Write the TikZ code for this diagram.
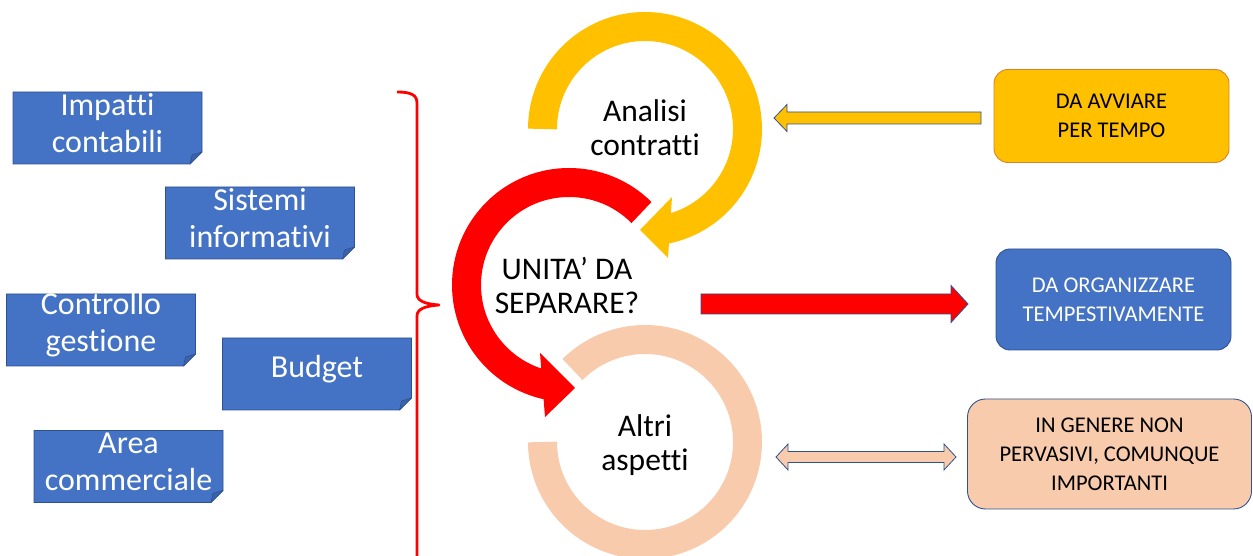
\documentclass[tikz,border=0pt]{standalone}
\usepackage{fontspec}
\setmainfont{Carlito}[Ligatures=NoCommon]
\usetikzlibrary{calc,backgrounds}

\definecolor{noteblue}{HTML}{4472C4}
\definecolor{noteedge}{HTML}{2F528F}
\definecolor{notefolddark}{HTML}{3B63AB}
\definecolor{ringyellow}{HTML}{FFC000}
\definecolor{ringred}{HTML}{FF0000}
\definecolor{ringpeach}{HTML}{F8CBAD}
\definecolor{boxorange}{HTML}{D9822B}

\begin{document}
\begin{tikzpicture}[x=1pt, y=1pt,
  ring/.style={line width=29pt, line cap=butt},
  ringlabel/.style={font=\fontsize{31.5}{34}\selectfont, align=center, text=black, inner sep=0},
  notelabel/.style={font=\fontsize{32}{37}\selectfont, align=center, text=white, inner sep=0},
  notebody/.style={fill=noteblue, draw=noteedge, line width=0.8pt, line join=miter},
  notefold/.style={fill=notefolddark, draw=noteedge, line width=0.6pt, line join=round},
  tagbox/.style={rounded corners=14pt, line width=0.9pt, inner sep=0,
    font=\fontsize{22.5}{29}\selectfont, align=center},
  arrowedge/.style={draw=noteedge, line width=0.8pt, line join=miter},
  % horizontal block arrow: shaft half-width, head half-width, head length
  block arrow/.style n args={3}{to path={
    let \p1=(\tikztostart), \p2=(\tikztotarget), \n1={sign(\x1-\x2)*#3} in
    (\x1,{\y1+#1}) -- ({\x2+\n1},{\y1+#1}) -- ({\x2+\n1},{\y1+#2}) -- (\x2,\y1)
    -- ({\x2+\n1},{\y1-#2}) -- ({\x2+\n1},{\y1-#1}) -- (\x1,{\y1-#1}) -- cycle}},
  % horizontal block arrow with a head at both ends
  double block arrow/.style n args={3}{to path={
    let \p1=(\tikztostart), \p2=(\tikztotarget), \n1={sign(\x2-\x1)*#3} in
    (\x1,\y1) -- ({\x1+\n1},{\y1+#2}) -- ({\x1+\n1},{\y1+#1}) -- ({\x2-\n1},{\y1+#1})
    -- ({\x2-\n1},{\y1+#2}) -- (\x2,\y1) -- ({\x2-\n1},{\y1-#2}) -- ({\x2-\n1},{\y1-#1})
    -- ({\x1+\n1},{\y1-#1}) -- ({\x1+\n1},{\y1-#2}) -- cycle}},
]
\useasboundingbox (0,0) rectangle (1253,556);
\clip (0,0) rectangle (1253,556);

% ---------- topic notes on the left ----------
\node[notelabel] (impatti)   at (107.5,433)  {Impatti\\contabili};
\node[notelabel] (sistemi)   at (260,338)    {Sistemi\\informativi};
\node[notelabel] (controllo) at (101,231)    {Controllo\\gestione};
\node[notelabel] (budget)    at (317,187)    {Budget};
\node[notelabel] (area)      at (128.5,94.5) {Area\\commerciale};

\begin{scope}[on background layer]
  \foreach \n in {impatti,sistemi,controllo,budget,area}{
    \filldraw[notebody] ($(\n)+(-94.5,31)$) -- ($(\n)+(94.5,31)$) -- ($(\n)+(94.5,-29)$)
      -- ($(\n)+(82.5,-41)$) -- ($(\n)+(-94.5,-41)$) -- cycle;
    \filldraw[notefold] ($(\n)+(94.5,-29)$) -- ($(\n)+(84.5,-32)$) -- ($(\n)+(82.5,-41)$) -- cycle;
  }
\end{scope}

% ---------- red brace ----------
\draw[ringred, line width=2.8pt, line join=round]
  (397,464) .. controls (411,464) and (417,461) .. (417,453) -- (417,262)
  .. controls (417,255) and (425,252) .. (439,251)
  .. controls (425,250) and (417,247) .. (417,240) -- (417,-10);

% ---------- circular arrows ----------
\coordinate (yelc)   at (645,427);
\coordinate (redc)   at (569,271);
\coordinate (peachc) at (645,114);

\draw[ring, ringpeach] ($(peachc)+(180:102.5)$) arc[start angle=180, end angle=495, radius=102.5];

\draw[ring, ringred] ($(redc)+(45:102.5)$) arc[start angle=45, end angle=258, radius=102.5];
\fill[ringred] (540,203) -- (545,139) -- (575,168) -- cycle;

\draw[ring, ringyellow] ($(yelc)+(180:102.5)$) arc[start angle=180, end angle=-79, radius=102.5];
\fill[ringyellow] (672,359) -- (668,298) -- (640,326) -- cycle;

\node[ringlabel] (analisi) at (645,428) {Analisi\\contratti};
\node[ringlabel] (unita)   at (567,270) {UNITA’ DA\\SEPARARE?};
\node[ringlabel] (altri)   at (645,111) {Altri\\aspetti};

% ---------- tags on the right ----------
\node[tagbox, fill=ringyellow, draw=boxorange, minimum width=235pt, minimum height=93pt]
  (avviare) at (1111.5,440) {DA AVVIARE\\PER TEMPO};
\node[tagbox, fill=noteblue, draw=noteedge, text=white, minimum width=235pt, minimum height=101pt]
  (organizzare) at (1113.5,256.5) {DA ORGANIZZARE\\TEMPESTIVAMENTE};
\node[tagbox, rounded corners=18pt, fill=ringpeach, draw=noteedge, minimum width=284pt, minimum height=110pt]
  (pervasivi) at (1109.5,102) {IN GENERE NON\\PERVASIVI, COMUNQUE\\IMPORTANTI};

% ---------- block arrows ----------
\coordinate (yaTail) at (981,438);
\coordinate (yaTip)  at (774,438);
\coordinate (raTail) at (701,252);
\coordinate (raTip)  at (968,252);
\coordinate (paLeft)  at (776,99);
\coordinate (paRight) at (956,99);

\draw[arrowedge, fill=ringyellow, block arrow={6}{13.5}{13}] (yaTail) to (yaTip);
\draw[arrowedge, fill=ringred, block arrow={10}{18.5}{17}] (raTail) to (raTip);
\draw[arrowedge, fill=ringpeach, double block arrow={5.5}{13}{12}] (paLeft) to (paRight);
\end{tikzpicture}
\end{document}
